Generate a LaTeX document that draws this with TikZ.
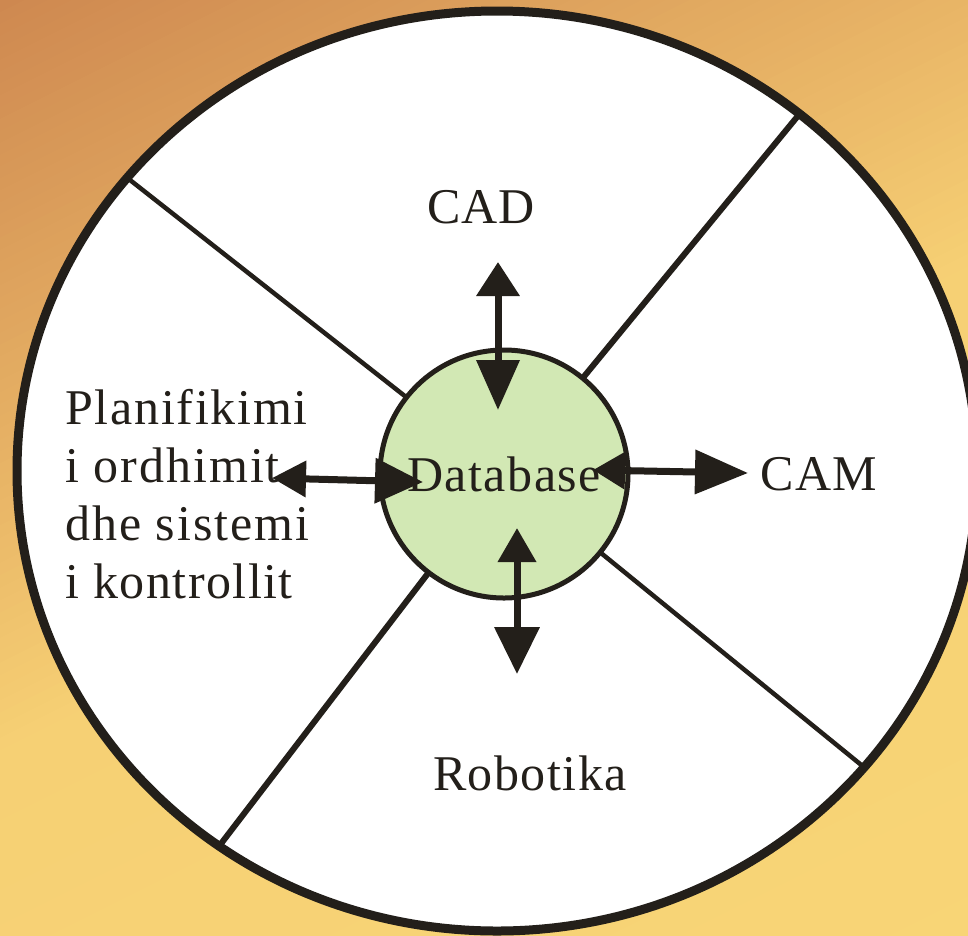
\documentclass[tikz,border=0pt]{standalone}
\usepackage{fontspec}
\setmainfont{Liberation Serif}
\usetikzlibrary{arrows.meta}
\definecolor{ink}{RGB}{35,31,26}
\definecolor{dbfill}{RGB}{210,232,180}
\definecolor{bgO}{RGB}{206,136,80}
\definecolor{bgM}{RGB}{232,180,102}
\definecolor{bgY}{RGB}{246,208,116}
\definecolor{bgZ}{RGB}{248,213,118}
\begin{document}
\begin{tikzpicture}[x=1pt,y=-1pt,
  lbl/.style={font=\fontsize{50}{58}\selectfont, text=ink, inner sep=0pt},
  divider/.style={draw=ink, line width=#1},
  dblarrow/.style={draw=ink, line width=7pt},
]
\useasboundingbox (0,0) rectangle (968,935);
\clip (0,0) rectangle (968,935);
% background gradient (bands along x+2y)
\foreach \i in {0,...,39}{
  \pgfmathsetmacro\ta{\i*23.75}
  \pgfmathsetmacro\tb{\ta+26}
  \pgfmathsetmacro\p{100-(\i+0.5)*2.5}
  \fill[bgO!\p!bgM] (\ta+100,-50) -- (\tb+100,-50) -- (\tb-2300,1150) -- (\ta-2300,1150) -- cycle;
}
\foreach \i in {0,...,21}{
  \pgfmathsetmacro\ta{950+\i*25}
  \pgfmathsetmacro\tb{\ta+27}
  \pgfmathsetmacro\p{100-(\i+0.5)*100/22}
  \fill[bgM!\p!bgY] (\ta+100,-50) -- (\tb+100,-50) -- (\tb-2300,1150) -- (\ta-2300,1150) -- cycle;
}
\foreach \i in {0,...,19}{
  \pgfmathsetmacro\ta{1500+\i*70}
  \pgfmathsetmacro\tb{\ta+72}
  \pgfmathsetmacro\p{100-(\i+0.5)*5}
  \fill[bgY!\p!bgZ] (\ta+100,-50) -- (\tb+100,-50) -- (\tb-2300,1150) -- (\ta-2300,1150) -- cycle;
}
\draw[ink, line width=9pt, fill=white] (497,471) ellipse [x radius=480, y radius=460];
% dividers
\coordinate (ctr) at (504,474);
\coordinate (oUL) at (130,180);
\coordinate (oUR) at (797,117);
\coordinate (oLR) at (865,768);
\coordinate (oLL) at (220,845);
\draw[divider=4.5pt] (ctr) -- (oUL);
\draw[divider=6pt] (ctr) -- (oUR);
\draw[divider=4.5pt] (ctr) -- (oLR);
\draw[divider=6pt] (ctr) -- (oLL);
% centre
\node[circle, draw=ink, line width=5pt, fill=dbfill, minimum size=248pt, lbl] (db) at (504,474) {\addfontfeature{LetterSpace=3}Database};
% labels
\node[lbl, anchor=base] (cad) at (481,223) {\addfontfeature{LetterSpace=2}CAD};
\node[lbl, anchor=base west] (cam) at (760,490) {\addfontfeature{LetterSpace=3}CAM};
\node[lbl, anchor=base] (rob) at (530,790) {\addfontfeature{LetterSpace=3}Robotika};
\node[lbl, align=left, anchor=north west] (plan) at (65,389) {\addfontfeature{LetterSpace=3.5}Planifikimi\\ \addfontfeature{LetterSpace=4}i ordhimit\\ \addfontfeature{LetterSpace=4}dhe sistemi\\ \addfontfeature{LetterSpace=3}i kontrollit};
% arrows
\coordinate (cadTip) at (498,262);
\coordinate (cadIn) at (498,410);
\coordinate (robIn) at (517,528);
\coordinate (robTip) at (517,674);
\coordinate (planTip) at (272,478);
\coordinate (planIn) at (423,482);
\coordinate (camIn) at (593,470);
\coordinate (camTip) at (748,473);
\draw[dblarrow, {Triangle[length=34pt,width=42pt]}-{Triangle[length=50pt,width=42pt]}] (cadTip) -- (cadIn);
\draw[dblarrow, {Triangle[length=34pt,width=37pt]}-{Triangle[length=47pt,width=44pt]}] (robIn) -- (robTip);
\draw[dblarrow, {Triangle[length=34pt,width=35pt]}-{Triangle[length=48pt,width=44pt]}] (planTip) -- (planIn);
\draw[dblarrow, {Triangle[length=32pt,width=36pt]}-{Triangle[length=53pt,width=43pt]}] (camIn) -- (camTip);
\end{tikzpicture}
\end{document}
